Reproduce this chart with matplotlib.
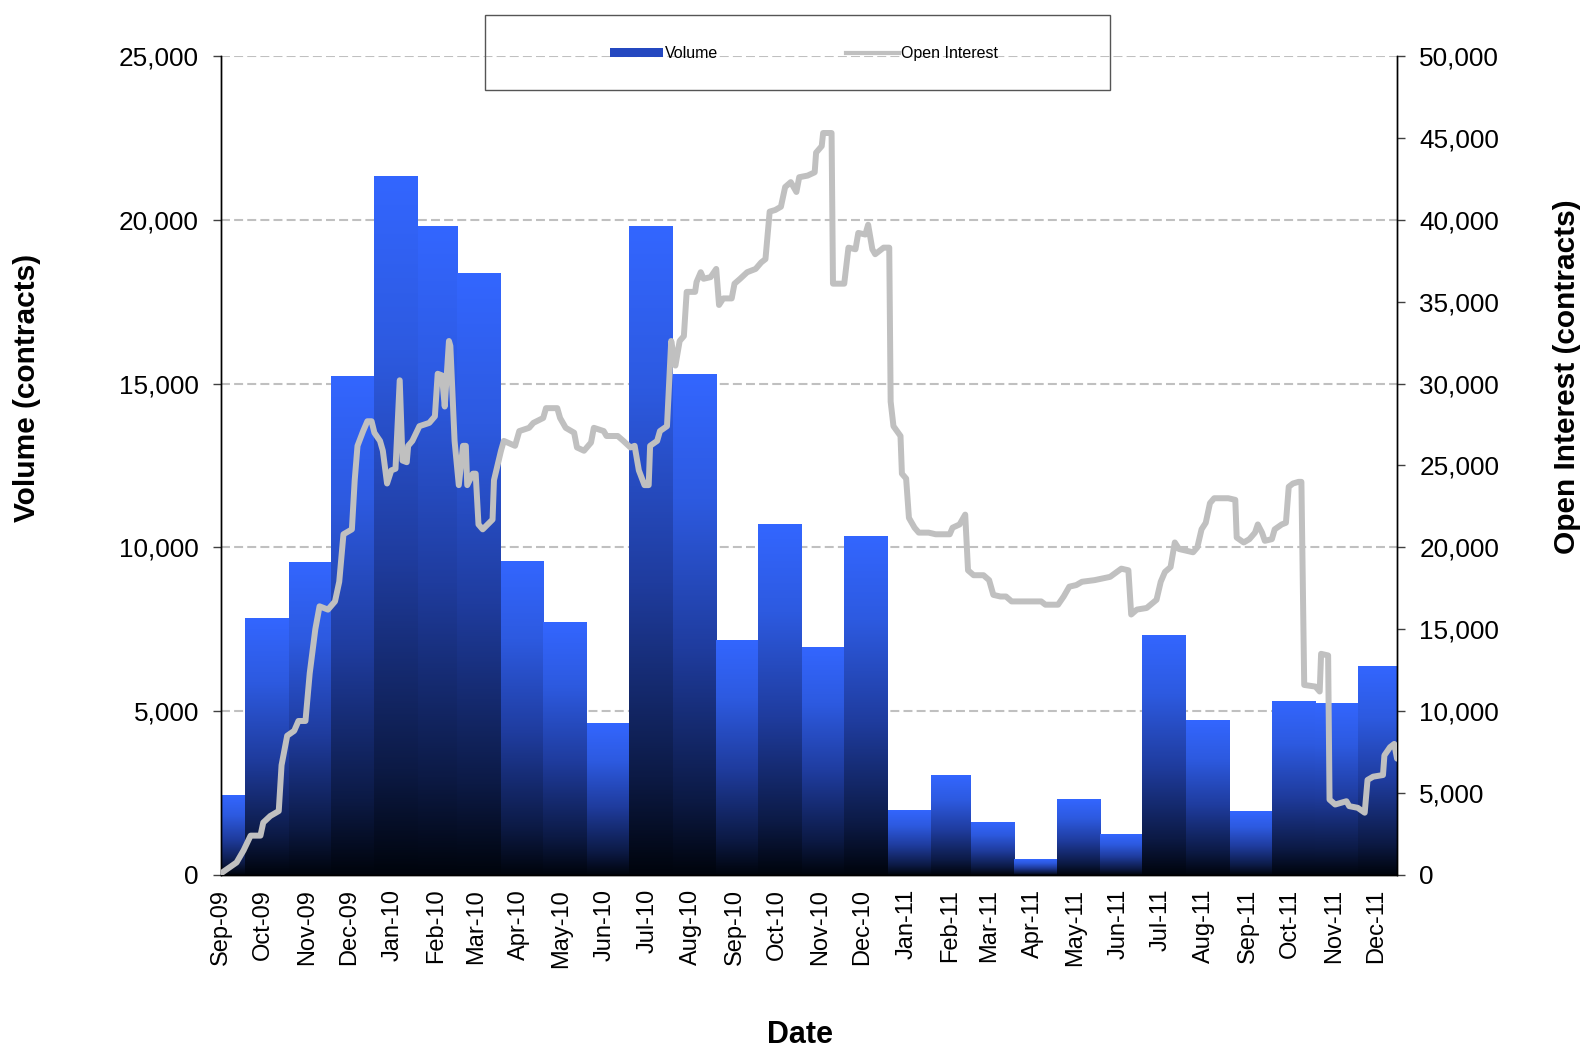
import numpy as np
import pandas as pd
import matplotlib
matplotlib.use('Agg')
import matplotlib.pyplot as plt
import matplotlib.dates as mdates
from matplotlib.colors import LinearSegmentedColormap
from matplotlib.lines import Line2D
from matplotlib.patches import Patch, Rectangle
from matplotlib.ticker import FuncFormatter, MultipleLocator

plt.rcParams['font.family'] = ['Liberation Sans', 'DejaVu Sans']

# periodo do grafico
inicio = pd.Timestamp('2009-09-14')
fim = pd.Timestamp('2011-12-29')

# volume mensal (contratos)
meses = pd.date_range('2009-09-01', '2011-12-01', freq='MS')
volume = [2440, 7830, 9560, 15240, 21350, 19810, 18370, 9590, 7710, 4635,
          19810, 15290, 7180, 10700, 6970, 10360, 1985, 3045, 1620, 485,
          2320, 1245, 7340, 4716, 1947, 5325, 5264, 6390]

# open interest (dias desde o inicio, contratos)
oi_dia = [0, 11, 16, 21, 28, 30, 35, 41, 43, 47, 52, 55, 60, 63, 67, 70, 76, 81, 84, 87,
          93, 95, 97, 101, 104, 107, 109, 113, 115, 118, 121, 124, 127, 129, 132, 133, 136, 141, 148, 152,
          154, 157, 159, 162, 163, 166, 169, 172, 174, 175, 179, 181, 183, 186, 193, 194, 199, 201, 209, 212,
          219, 222, 229, 231, 239, 241, 245, 251, 253, 258, 263, 265, 272, 274, 282, 286, 291, 294, 297, 301,
          304, 305, 310, 312, 317, 320, 323, 326, 329, 331, 337, 338, 341, 343, 348, 352, 354, 357, 363, 365,
          369, 374, 380, 384, 387, 390, 394, 398, 401, 405, 409, 411, 417, 422, 423, 427, 428, 434, 435, 443,
          446, 451, 453, 458, 460, 463, 465, 471, 475, 476, 478, 483, 484, 487, 489, 493, 496, 503, 508, 518,
          520, 525, 529, 531, 535, 542, 546, 549, 554, 558, 562, 583, 586, 595, 599, 603, 608, 612, 621, 632,
          640, 645, 647, 651, 658, 665, 668, 671, 675, 678, 681, 691, 694, 697, 700, 703, 706, 716, 721, 722,
          727, 731, 735, 737, 740, 742, 747, 749, 754, 757, 759, 762, 766, 768, 770, 778, 781, 782, 787, 788,
          792, 800, 802, 808, 813, 815, 819, 826, 827, 831, 834, 836]
open_interest = [100, 760, 1500, 2400, 2400, 3200, 3600, 3900, 6700, 8500, 8800, 9400, 9400, 12300, 15000, 16400, 16200, 16700, 17900, 20800,
                 21100, 24100, 26200, 27100, 27700, 27700, 27000, 26500, 25900, 23900, 24700, 24800, 30200, 25300, 25200, 26200, 26500, 27400, 27600, 28000,
                 30600, 30500, 28600, 32600, 32300, 26500, 23800, 26200, 26200, 23800, 24500, 24500, 21400, 21100, 21700, 24100, 25900, 26500, 26200, 27100,
                 27300, 27600, 27900, 28500, 28500, 27900, 27300, 27000, 26100, 25900, 26400, 27300, 27100, 26800, 26800, 26500, 26100, 26200, 24700, 23800,
                 23800, 26200, 26500, 27100, 27400, 32600, 31100, 32600, 32900, 35600, 35600, 36200, 36800, 36400, 36500, 37000, 34800, 35200, 35200, 36100,
                 36400, 36800, 37000, 37400, 37600, 40500, 40600, 40800, 42000, 42300, 41700, 42600, 42700, 42900, 44100, 44500, 45300, 45300, 36100, 36100,
                 38300, 38200, 39200, 39100, 39700, 38200, 37900, 38300, 38300, 28900, 27400, 26800, 24500, 24200, 21800, 21200, 20900, 20900, 20800, 20800,
                 21200, 21400, 22000, 18600, 18300, 18300, 18000, 17100, 17000, 17000, 16700, 16700, 16500, 16500, 17000, 17600, 17700, 17900, 18000, 18200,
                 18700, 18600, 15900, 16200, 16300, 16800, 17900, 18500, 18800, 20300, 19900, 19700, 20000, 21100, 21500, 22700, 23000, 23000, 22900, 20600,
                 20300, 20500, 20900, 21400, 20900, 20400, 20500, 21100, 21400, 21500, 23700, 23900, 24000, 24000, 11600, 11500, 11200, 13500, 13400, 4600,
                 4300, 4500, 4200, 4100, 3800, 5800, 6000, 6100, 7300, 7800, 8000, 7100]

oi_datas = inicio + pd.to_timedelta(oi_dia, unit='D')

fig = plt.figure(figsize=(15.95, 10.53), dpi=100)
ax = fig.add_axes([0.1386, 0.1691, 0.7373, 0.7777])
ax.xaxis_date()
ax2 = ax.twinx()

# barras com degrade preto -> azul
cmap = LinearSegmentedColormap.from_list('barra', [(0, '#00040c'), (0.15, '#0c1a45'), (0.45, '#1f3c9e'),
                                                   (0.75, '#2d5ae0'), (1, '#3366ff')])
grad = np.linspace(0, 1, 256).reshape(-1, 1)
x0 = mdates.date2num(inicio)
x1 = mdates.date2num(fim)
bordas = list(mdates.date2num(meses)) + [mdates.date2num(pd.Timestamp('2012-01-01'))]
for i, v in enumerate(volume):
    esq = max(bordas[i], x0)
    dir_ = min(bordas[i + 1], x1)
    barra = ax.bar(esq, v, width=dir_ - esq, align='edge', color='none', lw=0, zorder=2)[0]
    img = ax.imshow(grad, cmap=cmap, origin='lower', extent=(esq, dir_, 0, v),
                    aspect='auto', interpolation='bilinear', zorder=2)
    img.set_clip_path(barra)

ax2.plot(oi_datas, open_interest, color='#c0c0c0', lw=4.3, solid_joinstyle='round',
         solid_capstyle='round', zorder=3)

ax.set_xlim(x0, x1)
ax.set_ylim(0, 25000)
ax2.set_ylim(0, 50000)
ax.yaxis.set_major_locator(MultipleLocator(5000))
ax2.yaxis.set_major_locator(MultipleLocator(5000))
fmt = FuncFormatter(lambda v, p: f'{v:,.0f}')
ax.yaxis.set_major_formatter(fmt)
ax2.yaxis.set_major_formatter(fmt)

ax.xaxis.set_major_locator(mdates.MonthLocator(bymonthday=14))
ax.xaxis.set_major_formatter(mdates.DateFormatter('%b-%y'))
ax.tick_params(axis='x', length=0, pad=10, labelsize=17, labelrotation=90)
ax.tick_params(axis='y', length=6, width=1, color='#404040', pad=10, labelsize=18.8)
ax2.tick_params(axis='y', length=6, width=1, color='#404040', pad=10, labelsize=18.8)

ax.yaxis.grid(True, ls=(0, (4.3, 2)), color='#c0c0c0', lw=1.5)
ax.set_axisbelow(True)

for a in (ax, ax2):
    a.spines['top'].set_visible(False)
    for s in ('left', 'right', 'bottom'):
        a.spines[s].set_color('black')
        a.spines[s].set_linewidth(1)

fig.text(0.0172, 0.6315, 'Volume (contracts)', rotation=90, ha='center', va='center',
         fontsize=21.5, fontweight='bold')
fig.text(0.9824, 0.642, 'Open Interest (contracts)', rotation=90, ha='center', va='center',
         fontsize=21.5, fontweight='bold')
fig.text(0.5016, 0.017, 'Date', ha='center', va='center', fontsize=22, fontweight='bold')

# legenda
handles = [Patch(facecolor='#2448c0', edgecolor='none'),
           Line2D([], [], color='#c0c0c0', lw=3)]
fig.legend(handles, ['Volume', 'Open Interest'], loc='center', bbox_to_anchor=(0.504, 0.949),
           ncol=2, frameon=False, fontsize=11.5, handlelength=3.3, handletextpad=0.1,
           columnspacing=8.05, handleheight=0.5)
fig.patches.append(Rectangle((0.304, 0.915), 0.392, 0.071, transform=fig.transFigure,
                             fill=False, ec='#555555', lw=1))

plt.savefig('out.png', dpi=100)
